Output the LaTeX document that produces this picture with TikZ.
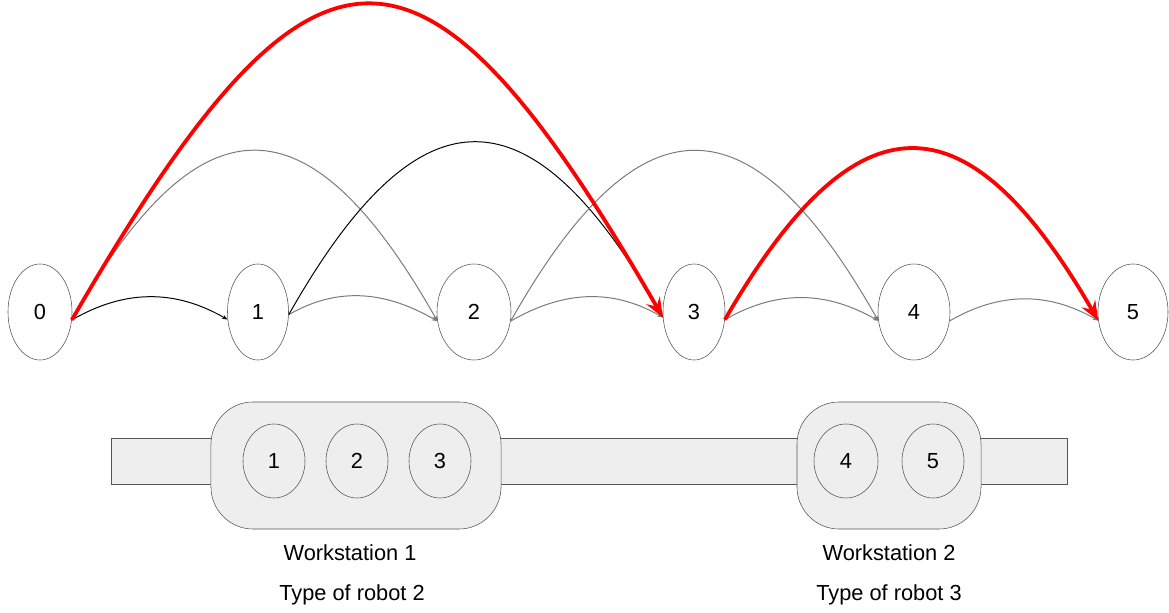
\documentclass[tikz,border=0pt]{standalone}
\usepackage{fontspec}
\setmainfont{Liberation Sans}
\usepackage{tikz}
\usetikzlibrary{arrows.meta}
\usetikzlibrary{shapes.geometric}
\definecolor{edgegray}{HTML}{7A7A7A}
\definecolor{boxfill}{HTML}{EEEEEE}
\definecolor{linegray}{HTML}{555555}

\begin{document}
\begin{tikzpicture}[
x=0.025cm, y=0.025cm,
every node/.style={font=\fontsize{15.5}{18}\selectfont},
Stop/.style={ellipse,draw=linegray,fill=white,inner sep=0pt,minimum height=2.4cm},
Robot/.style={ellipse,draw=linegray,fill=boxfill,inner sep=0pt,minimum height=1.85cm,minimum width=1.55cm},
Station/.style={draw=linegray,fill=boxfill,rounded corners=30pt,minimum height=3.175cm},
Hop/.style={draw=edgegray,line width=0.7pt,-{Stealth[length=4pt,width=3pt]}},
Path/.style={draw=red,line width=2.7pt,-{Stealth[length=14pt,width=11pt,inset=5pt]}}
]
\useasboundingbox (0,0) rectangle (1169,612);

% the line and its two workstations
\node[draw=linegray,fill=boxfill,minimum width=23.9cm,minimum height=1.15cm] (line) at (589,151) {};
\node[Station,minimum width=7.25cm] (ws1) at (356,146.5) {};
\node[Station,minimum width=4.6cm] (ws2) at (889,146.5) {};

\node[Robot] (r1) at (274,151) {1};
\node[Robot] (r2) at (357,151) {2};
\node[Robot] (r3) at (440,151) {3};
\node[Robot,minimum width=1.6cm] (r4) at (846,151) {4};
\node[Robot] (r5) at (933,151) {5};

\node (w1) at (350,59) {Workstation 1};
\node (t1) at (352,17) {Type of robot 2};
\node (w2) at (889,59) {Workstation 2};
\node (t2) at (889,17) {Type of robot 3};

% the stops
\node[Stop,minimum width=1.6cm] (s0) at (40,300) {0};
\node[Stop,minimum width=1.525cm] (s1) at (258,300) {1};
\node[Stop,minimum width=1.85cm] (s2) at (474,300) {2};
\node[Stop,minimum width=1.55cm] (s3) at (694,300) {3};
\node[Stop,minimum width=1.8cm] (s4) at (914,300) {4};
\node[Stop,minimum width=1.75cm] (s5) at (1133,300) {5};

% short hops
\draw[Hop,draw=black] (s0.-14) to[out=30,in=150] (s1.194);
\draw[Hop] (s1.-5) to[out=30,in=150] (s2.194);
\draw[Hop] (s2.-14) to[out=30,in=150] (s3.190);
\draw[Hop] (s3.-14) to[out=30,in=150] (s4.194);
\draw[Hop] (s4.-14) to[out=30,in=150] (s5.194);

% long hops
\draw[Hop] (s0.-14) to[out=60.5,in=119.5,looseness=1.82] (s2.194);
\draw[Hop,draw=black] (s1.-5) to[out=60.5,in=119.5,looseness=1.82] (s3.190);
\draw[Hop] (s2.-14) to[out=60.5,in=119.5,looseness=1.82] (s4.194);

% chosen path
\draw[Path] (s0.-14) to[out=60,in=120,looseness=2.09] (s3.190);
\draw[Path] (s3.-14) to[out=60,in=120,looseness=1.8] (s5.194);

\end{tikzpicture}
\end{document}
